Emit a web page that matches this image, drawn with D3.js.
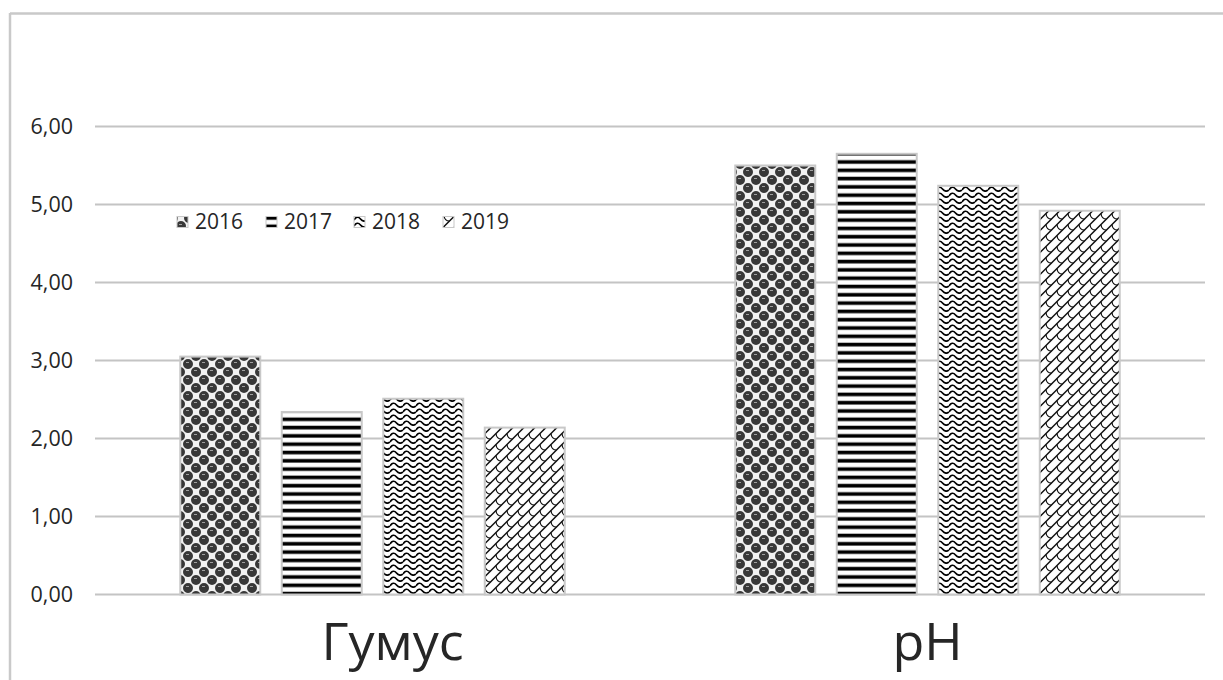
<!DOCTYPE html>
<html>
<head>
<meta charset="utf-8">
<script src="https://cdn.jsdelivr.net/npm/d3@7"></script>
<style>
  html, body { margin: 0; padding: 0; background: #fff; }
  svg { display: block; }
  text { font-family: "Open Sans", "Noto Sans", sans-serif; fill: #262626; }
</style>
</head>
<body>
<svg id="chart" width="1223" height="680"></svg>
<script>
// Soil indicators by year
const categories = ["Гумус", "pH"];
const years = ["2016", "2017", "2018", "2019"];
const values2016 = [3.05, 5.50];
const values2017 = [2.34, 5.65];
const values2018 = [2.51, 5.24];
const values2019 = [2.14, 4.92];
const yTicks = [0, 1, 2, 3, 4, 5, 6];

const seriesValues = [values2016, values2017, values2018, values2019];
const rows = [];
categories.forEach((c, ci) => {
  years.forEach((y, yi) => rows.push({ category: c, year: y, value: seriesValues[yi][ci] }));
});

const svg = d3.select("#chart");
const W = 1223, H = 680;
const plot = { left: 95, right: 1205, top: 126.5, bottom: 594.5 };

// frame around the chart area
svg.append("line").attr("x1", 10).attr("x2", W).attr("y1", 13.5).attr("y2", 13.5)
  .attr("stroke", "#c9c9c9").attr("stroke-width", 2.5);
svg.append("line").attr("x1", 10).attr("x2", 10).attr("y1", 13).attr("y2", H)
  .attr("stroke", "#c9c9c9").attr("stroke-width", 2.5);

// fill patterns
const defs = svg.append("defs");

const p16 = defs.append("pattern").attr("id", "pat2016").attr("patternUnits", "userSpaceOnUse")
  .attr("width", 16).attr("height", 16);
p16.append("rect").attr("width", 16).attr("height", 16).attr("fill", "#fff");
[[12, 4], [4, 12]].forEach(([cx, cy]) => {
  p16.append("rect").attr("x", cx - 4).attr("y", cy - 4).attr("width", 8).attr("height", 8).attr("fill", "#f2f2f2");
});
[[4, 4], [12, 12], [-4, -4], [20, -4], [-4, 20], [20, 20], [20, 4], [-4, 12], [4, 20], [12, -4]]
  .filter(([cx, cy]) => ((cx + cy) / 8) % 2 === 1 || (cx + cy) % 16 === 8)
  .forEach(([cx, cy]) => {
    p16.append("circle").attr("cx", cx).attr("cy", cy).attr("r", 5).attr("fill", "#383838");
  });
[[4, 4], [12, 12]].forEach(([cx, cy]) => {
  p16.append("line").attr("x1", cx - 2).attr("x2", cx + 1).attr("y1", cy - 1.5).attr("y2", cy - 1.5)
    .attr("stroke", "#a0a0a0").attr("stroke-width", 1);
});

const p17 = defs.append("pattern").attr("id", "pat2017").attr("patternUnits", "userSpaceOnUse")
  .attr("width", 8).attr("height", 8.3);
p17.append("rect").attr("width", 8).attr("height", 8.3).attr("fill", "#fff");
p17.append("rect").attr("y", 2.5).attr("width", 8).attr("height", 3.6).attr("fill", "#000");

const p18 = defs.append("pattern").attr("id", "pat2018").attr("patternUnits", "userSpaceOnUse")
  .attr("width", 13).attr("height", 6);
p18.append("rect").attr("width", 13).attr("height", 6).attr("fill", "#fff");
p18.append("path").attr("d", "M0,4 C2,0.5 4.5,0.5 6.5,3 C8.5,5.5 11,5.5 13,4")
  .attr("fill", "none").attr("stroke", "#000").attr("stroke-width", 1.7);

// shingle: diagonal strokes joined by curved scallops
const p19 = defs.append("pattern").attr("id", "pat2019").attr("patternUnits", "userSpaceOnUse")
  .attr("width", 11).attr("height", 11);
p19.append("rect").attr("width", 11).attr("height", 11).attr("fill", "#fff");
p19.append("path").attr("d", "M-1,6.5 L6.5,-1 M4.5,12 L12,4.5")
  .attr("stroke", "#111").attr("stroke-width", 1.5).attr("fill", "none");
p19.append("path").attr("d", "M1,4.5 Q1.5,10 6.5,10")
  .attr("stroke", "#111").attr("stroke-width", 1.2).attr("fill", "none");

const fills = { "2016": "url(#pat2016)", "2017": "url(#pat2017)", "2018": "url(#pat2018)", "2019": "url(#pat2019)" };

// scales
const x0 = d3.scaleBand().domain(categories).range([plot.left, plot.right]).paddingInner(0).paddingOuter(0);
const x1 = d3.scaleBand().domain(years).range([0, x0.bandwidth()]).paddingInner(0.212).paddingOuter(0.84);
const y = d3.scaleLinear().domain([0, 6]).range([plot.bottom, plot.top]);

// gridlines and value axis labels
const grid = svg.append("g");
grid.selectAll("line").data(yTicks).join("line")
  .attr("x1", plot.left).attr("x2", plot.right)
  .attr("y1", d => y(d)).attr("y2", d => y(d))
  .attr("stroke", "#c4c4c4").attr("stroke-width", 2);

const fmt = d => d3.format(".2f")(d).replace(".", ",");
svg.append("g").selectAll("text").data(yTicks).join("text")
  .attr("x", 73).attr("y", d => y(d)).attr("dy", "0.35em")
  .attr("text-anchor", "end").attr("font-size", 21.5)
  .text(fmt);

// bars
svg.append("g").selectAll("rect").data(rows).join("rect")
  .attr("x", d => x0(d.category) + x1(d.year))
  .attr("width", x1.bandwidth())
  .attr("y", d => y(d.value))
  .attr("height", d => y(0) - y(d.value))
  .attr("fill", d => fills[d.year])
  .attr("stroke", "#c8c8c8").attr("stroke-width", 2);

// category labels
const labelShift = { "Гумус": 20, "pH": 0 };
svg.append("g").selectAll("text").data(categories).join("text")
  .attr("x", d => x0(d) + x0.bandwidth() / 2 + labelShift[d]).attr("y", 660)
  .attr("text-anchor", "middle").attr("font-size", 52).attr("fill", "#000")
  .text(d => d);

// legend
const legendX = [177, 266, 354, 443];
const legend = svg.append("g").selectAll("g").data(years).join("g")
  .attr("transform", (d, i) => `translate(${legendX[i]},222)`);
legend.append("rect").attr("x", 0).attr("y", -5.5).attr("width", 11).attr("height", 11)
  .attr("fill", d => fills[d]).attr("stroke", "#c8c8c8").attr("stroke-width", 1);
legend.append("text").attr("x", 18).attr("y", 0).attr("dy", "0.35em")
  .attr("font-size", 21).text(d => d);
</script>
</body>
</html>
